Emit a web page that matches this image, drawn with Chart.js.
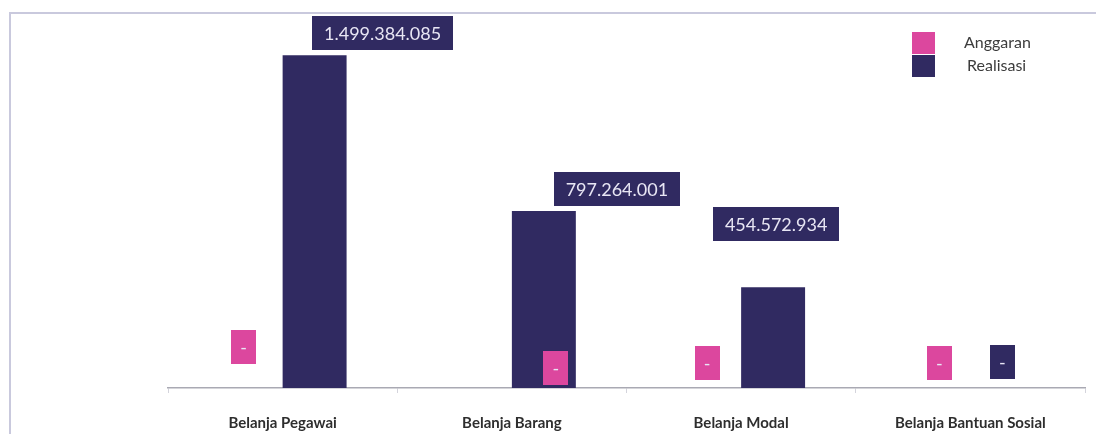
<!DOCTYPE html>
<html>
<head>
<meta charset="utf-8">
<script src="https://cdn.jsdelivr.net/npm/chart.js@4.4.0/dist/chart.umd.min.js"></script>
<style>
  html, body { margin: 0; padding: 0; background: #fff; }
  #wrap { position: relative; width: 1096px; height: 434px; }
</style>
</head>
<body>
<div id="wrap"><canvas id="barChart"></canvas></div>
<script>
'use strict';

// data
var categories = ['Belanja Pegawai', 'Belanja Barang', 'Belanja Modal', 'Belanja Bantuan Sosial'];
var anggaran = [0, 0, 0, 0];
var realisasi = [1499384085, 797264001, 454572934, 0];
var seriesNames = ['Anggaran', 'Realisasi'];

var pink = '#dc479e';
var navy = '#302a61';

// where each value box sits, relative to the top centre of its bar
var labelShift = [
  [[-7, -41], [76, -20], [-2, -25], [1, -25]],
  [[68, -22], [73, -22], [3, -63], [0, -26]]
];

function formatValue(v) {
  if (!v) return '-';
  return String(v).replace(/\B(?=(\d{3})+(?!\d))/g, '.');
}

var framePlugin = {
  id: 'frame',
  beforeDraw: function (chart) {
    var c = chart.ctx;
    c.save();
    c.strokeStyle = '#c9c9dd';
    c.lineWidth = 2;
    c.beginPath();
    c.moveTo(10, 434);
    c.lineTo(10, 13);
    c.lineTo(1096, 13);
    c.stroke();
    c.restore();
  }
};

var valueBoxes = {
  id: 'valueBoxes',
  afterDatasetsDraw: function (chart) {
    var c = chart.ctx;
    c.save();
    c.font = '18px Lato';
    c.textAlign = 'center';
    c.textBaseline = 'middle';
    chart.data.datasets.forEach(function (ds, di) {
      var meta = chart.getDatasetMeta(di);
      meta.data.forEach(function (bar, i) {
        var txt = formatValue(ds.data[i]);
        var w = txt === '-' ? 25 : c.measureText(txt).width + 24;
        var h = 34;
        var cx = bar.x + labelShift[di][i][0];
        var cy = bar.y + labelShift[di][i][1];
        c.fillStyle = ds.backgroundColor;
        c.fillRect(Math.round(cx - w / 2), Math.round(cy - h / 2), Math.round(w), h);
        c.fillStyle = '#e8e6f4';
        c.fillText(txt, cx, cy + 1);
      });
    });
    c.restore();
  }
};

var sideLegend = {
  id: 'sideLegend',
  afterDraw: function (chart) {
    var c = chart.ctx;
    c.save();
    c.font = '16px Lato';
    c.textBaseline = 'middle';
    chart.data.datasets.forEach(function (ds, di) {
      var y = 32 + di * 23;
      c.fillStyle = ds.backgroundColor;
      c.fillRect(912, y, 23, 22);
      c.fillStyle = '#3c3c3c';
      c.fillText(ds.label, di === 0 ? 964 : 967, y + 11);
    });
    c.restore();
  }
};

var ctx = document.getElementById('barChart');
var myBarChart = new Chart(ctx, {
  type: 'bar',
  data: {
    labels: categories,
    datasets: [
      { label: seriesNames[0], data: anggaran, backgroundColor: pink },
      { label: seriesNames[1], data: realisasi, backgroundColor: navy }
    ]
  },
  options: {
    responsive: true,
    maintainAspectRatio: false,
    animation: false,
    layout: { padding: { left: 168, right: 11, top: 33, bottom: -19 } },
    datasets: { bar: { categoryPercentage: 0.558, barPercentage: 1.0 } },
    plugins: {
      legend: { display: false },
      tooltip: { enabled: false }
    },
    scales: {
      x: {
        grid: { display: true, drawOnChartArea: false, drawTicks: true, tickLength: 5, color: '#d4d4dc' },
        border: { display: true, color: '#a9a9b3', width: 1.5 },
        ticks: { padding: 21, color: '#2e2e2e', font: { family: 'Lato', size: 15, weight: 'bold' } }
      },
      y: {
        display: false,
        min: 0,
        max: 1600000000
      }
    }
  },
  plugins: [framePlugin, valueBoxes, sideLegend]
});
</script>
</body>
</html>
